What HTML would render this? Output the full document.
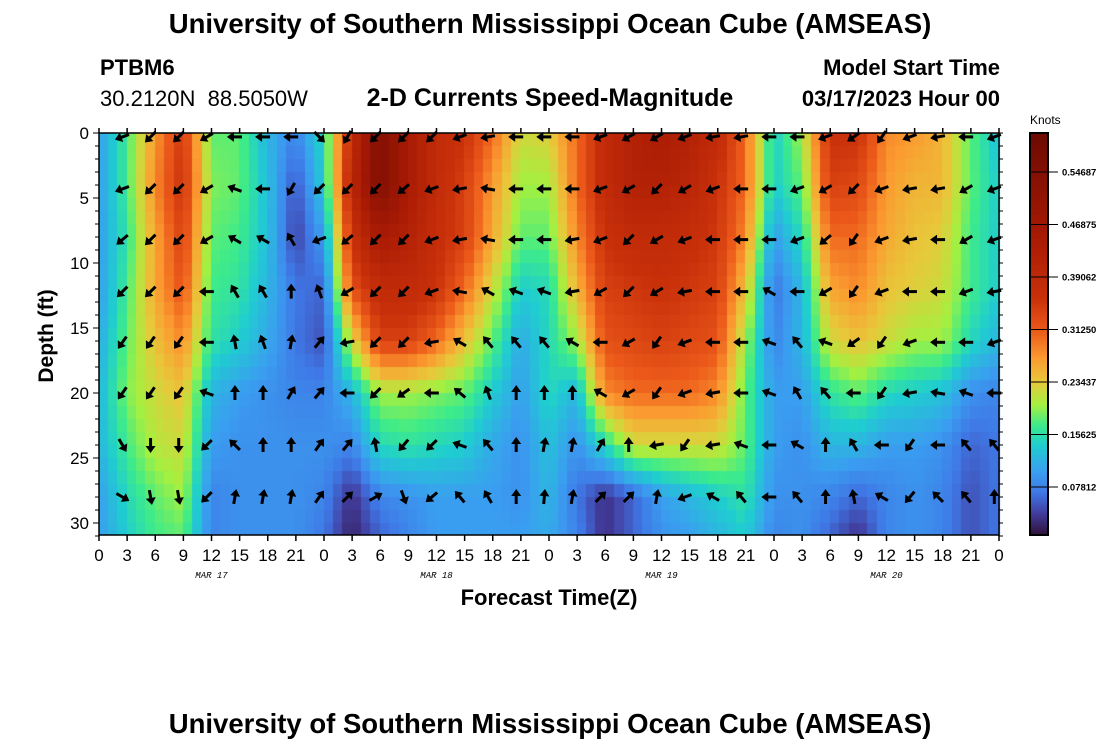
<!DOCTYPE html>
<html><head><meta charset="utf-8">
<style>
body{margin:0;background:#fff;width:1100px;height:750px;overflow:hidden;font-family:"Liberation Sans",sans-serif;position:relative}
.t{position:absolute;white-space:nowrap;color:#000}
</style></head><body>
<div class="t" style="left:0;width:1100px;text-align:center;top:8px;font-size:27.5px;font-weight:bold">University of Southern Mississippi Ocean Cube (AMSEAS)</div>
<div class="t" style="left:100px;top:55px;font-size:22px;font-weight:bold">PTBM6</div>
<div class="t" style="left:100px;top:86px;font-size:22px">30.2120N&nbsp; 88.5050W</div>
<div class="t" style="left:0;width:1100px;text-align:center;top:84px;font-size:25px;font-weight:bold">2-D Currents Speed-Magnitude</div>
<div class="t" style="right:100px;top:55px;font-size:22px;font-weight:bold">Model Start Time</div>
<div class="t" style="right:100px;top:86px;font-size:22px;font-weight:bold">03/17/2023 Hour 00</div>
<div class="t" style="left:0;width:1100px;text-align:center;top:708px;font-size:27.5px;font-weight:bold">University of Southern Mississippi Ocean Cube (AMSEAS)</div>
<canvas id="hm" width="902" height="402" style="position:absolute;left:99px;top:133px"></canvas>
<svg id="ov" width="1100" height="750" style="position:absolute;left:0;top:0"></svg>
<script>
const hours=[0,3,6,9,12,15,18,21,24,27,30,33,36,39,42,45,48,51,54,57,60,63,66,69,72,75,78,81,84,87,90,93,96];
const depths=[0,4,8,12,16,20,24,28,31];
const speed=[
[0.10,0.10,0.10,0.10,0.11,0.12,0.12,0.10,0.10],
[0.17,0.17,0.16,0.17,0.18,0.19,0.17,0.15,0.14],
[0.27,0.28,0.26,0.26,0.24,0.22,0.21,0.18,0.17],
[0.35,0.36,0.34,0.32,0.28,0.24,0.22,0.20,0.18],
[0.18,0.19,0.18,0.17,0.16,0.12,0.10,0.08,0.08],
[0.18,0.18,0.17,0.16,0.14,0.10,0.09,0.09,0.09],
[0.12,0.13,0.13,0.12,0.11,0.09,0.09,0.09,0.09],
[0.08,0.05,0.04,0.07,0.07,0.08,0.09,0.09,0.09],
[0.15,0.14,0.10,0.06,0.05,0.08,0.09,0.08,0.07],
[0.38,0.40,0.36,0.32,0.22,0.12,0.08,0.03,0.02],
[0.55,0.55,0.45,0.38,0.34,0.20,0.15,0.08,0.06],
[0.45,0.45,0.42,0.38,0.34,0.20,0.16,0.09,0.08],
[0.38,0.38,0.37,0.36,0.30,0.19,0.15,0.10,0.10],
[0.36,0.34,0.34,0.30,0.24,0.18,0.14,0.10,0.10],
[0.30,0.27,0.26,0.22,0.18,0.14,0.11,0.10,0.10],
[0.22,0.20,0.18,0.14,0.11,0.10,0.09,0.09,0.10],
[0.23,0.20,0.18,0.15,0.15,0.15,0.13,0.12,0.11],
[0.30,0.30,0.28,0.25,0.20,0.12,0.09,0.07,0.08],
[0.38,0.38,0.36,0.34,0.32,0.28,0.15,0.03,0.03],
[0.42,0.42,0.38,0.35,0.33,0.30,0.22,0.06,0.06],
[0.44,0.42,0.38,0.36,0.34,0.30,0.22,0.10,0.09],
[0.42,0.40,0.37,0.35,0.33,0.30,0.22,0.12,0.10],
[0.38,0.36,0.35,0.34,0.32,0.28,0.22,0.14,0.12],
[0.30,0.30,0.28,0.24,0.20,0.18,0.18,0.16,0.14],
[0.14,0.14,0.10,0.07,0.08,0.10,0.10,0.09,0.08],
[0.20,0.18,0.15,0.12,0.12,0.10,0.09,0.09,0.09],
[0.36,0.34,0.30,0.26,0.22,0.16,0.12,0.08,0.06],
[0.36,0.33,0.30,0.28,0.24,0.18,0.12,0.06,0.03],
[0.28,0.27,0.26,0.24,0.22,0.15,0.10,0.08,0.08],
[0.27,0.25,0.24,0.23,0.20,0.14,0.10,0.09,0.09],
[0.25,0.25,0.23,0.22,0.20,0.13,0.09,0.08,0.08],
[0.18,0.18,0.17,0.17,0.15,0.09,0.06,0.05,0.05],
[0.13,0.14,0.14,0.14,0.12,0.08,0.07,0.07,0.07]];
const arrowDepths=[0.3,4.3,8.2,12.2,16.1,20,24,28];
const arrowHours=[2.5,5.5,8.5,11.5,14.5,17.5,20.5,23.5,26.5,29.5,32.5,35.5,38.5,41.5,44.5,47.5,50.5,53.5,56.5,59.5,62.5,65.5,68.5,71.5,74.5,77.5,80.5,83.5,86.5,89.5,92.5,95.5];
const arrowDir=[
[200,225,225,210,180,180,180,315,240,225,225,225,200,190,180,180,180,200,210,210,200,190,190,180,180,200,215,235,200,190,180,200],
[200,225,225,210,160,180,240,225,225,225,220,200,190,170,180,180,180,200,210,225,210,200,180,180,200,210,225,200,190,190,210,200],
[220,225,225,210,150,150,120,200,220,225,225,200,190,170,180,180,190,200,225,210,200,180,180,180,200,220,235,200,190,180,210,200],
[225,225,225,180,120,120,90,110,210,225,225,200,170,150,160,160,190,210,225,210,190,180,180,150,180,210,235,200,180,180,200,190],
[235,235,235,180,100,110,80,50,190,225,225,190,150,130,130,130,150,180,210,235,200,180,180,160,130,160,215,235,200,180,180,200],
[235,235,235,160,90,90,60,50,180,225,215,180,140,110,90,90,90,150,210,235,200,190,180,160,120,130,180,235,190,170,160,180],
[300,270,270,225,135,90,90,55,50,100,230,225,160,130,90,80,80,60,90,190,235,190,160,180,150,90,120,180,235,180,130,130],
[330,280,280,225,80,80,80,55,45,30,290,220,130,120,90,85,80,45,45,80,200,150,130,180,130,90,100,150,230,135,130,90]];
const xTicks=[0,3,6,9,12,15,18,21,24,27,30,33,36,39,42,45,48,51,54,57,60,63,66,69,72,75,78,81,84,87,90,93,96];
const yTicks=[0,5,10,15,20,25,30];
const dayLabels=["MAR 17","MAR 18","MAR 19","MAR 20"];
const dayCenters=[12,36,60,84];
const cbTicks=[0.078125,0.15625,0.234375,0.3125,0.390625,0.46875,0.546875];

const X0=99,X1=999,Y0=133,YB=535;
const xs=h=>X0+(X1-X0)*h/96;
const ys=d=>Y0+13*d;
const cbY=v=>487-(v-0.078125)/0.078125*52.5;
const stops=[[0.007,[48,18,59]],[0.04,[66,62,160]],[0.07,[63,120,230]],[0.10,[58,158,240]],[0.14,[31,205,208]],[0.17,[61,235,138]],[0.20,[164,240,64]],[0.235,[232,200,58]],[0.27,[251,154,48]],[0.31,[236,90,26]],[0.36,[200,48,10]],[0.45,[168,26,4]],[0.60,[110,10,2]]];
function col(v){
 if(v<=stops[0][0])return stops[0][1];
 for(let i=1;i<stops.length;i++){if(v<=stops[i][0]){const a=stops[i-1],b=stops[i],t=(v-a[0])/(b[0]-a[0]);return a[1].map((c,k)=>Math.round(c+(b[1][k]-c)*t));}}
 return stops[stops.length-1][1];
}
function interp(arr,x){let i=0;while(i<arr.length-2&&x>arr[i+1])i++;let t=(x-arr[i])/(arr[i+1]-arr[i]);return [i,Math.max(0,Math.min(1,t))];}
function val(h,d){const [i,tx]=interp(hours,h),[j,ty]=interp(depths,d);
 const a=speed[i][j],b=speed[i+1][j],c=speed[i][j+1],e=speed[i+1][j+1];
 return (a*(1-tx)+b*tx)*(1-ty)+(c*(1-tx)+e*tx)*ty;}
const ctx=document.getElementById('hm').getContext('2d');
for(let h=0;h<96;h++)for(let d=0;d<31;d++){
 const c=col(val(h+0.5,d+0.5));ctx.fillStyle=`rgb(${c})`;
 const x=xs(h)-X0,y=ys(d)-Y0;ctx.fillRect(Math.floor(x),y,Math.ceil(xs(h+1)-xs(h))+1,14);}
const svg=document.getElementById('ov');const NS='http://www.w3.org/2000/svg';
function mk(t,at,p){const e=document.createElementNS(NS,t);for(const k in at)e.setAttribute(k,at[k]);(p||svg).appendChild(e);return e;}
const ag=mk('g',{});


arrowDepths.forEach((d,r)=>arrowHours.forEach((h,c)=>{
 const a=arrowDir[r][c];
 const g=mk('g',{transform:`translate(${xs(h)},${ys(d)}) rotate(${-a})`},ag);
 
 
 mk('line',{x1:-7,y1:0,x2:3,y2:0,stroke:'#000','stroke-width':3},g);
 mk('path',{d:'M8,0 L1,-5 L1,5 Z',fill:'#000'},g);
}));
const fr=mk('rect',{x:X0,y:Y0,width:X1-X0,height:YB-Y0,fill:'none',stroke:'#000','stroke-width':1.5});


for(let d=0;d<=31;d++){const y=ys(d),L=d%5==0?6:4;
 mk('line',{x1:X0-L,y1:y,x2:X0,y2:y,stroke:'#000','stroke-width':1});
 mk('line',{x1:X1,y1:y,x2:X1+4,y2:y,stroke:'#000','stroke-width':1});}
yTicks.forEach(v=>{const t=mk('text',{x:X0-10,y:ys(v)+6,'text-anchor':'end','font-size':17,'font-family':'Liberation Sans'});t.textContent=v;
 
 });
xTicks.forEach(h=>{const x=xs(h);
 mk('line',{x1:x,y1:YB,x2:x,y2:YB+6,stroke:'#000','stroke-width':1.5});
 mk('line',{x1:x,y1:Y0,x2:x,y2:Y0-5,stroke:'#000','stroke-width':1.5});
 const t=mk('text',{x:x,y:YB+26,'text-anchor':'middle','font-size':17,'font-family':'Liberation Sans'});t.textContent=h%24;
 
 });
dayLabels.forEach((s,i)=>{const t=mk('text',{x:xs(dayCenters[i]),y:578,'text-anchor':'middle','font-size':9,'font-style':'italic','font-family':'Liberation Mono'});t.textContent=s;
 
 });
let t=mk('text',{x:549,y:605,'text-anchor':'middle','font-size':22,'font-weight':'bold','font-family':'Liberation Sans'});t.textContent='Forecast Time(Z)';


t=mk('text',{x:0,y:0,transform:'translate(53,336) rotate(-90)','text-anchor':'middle','font-size':21,'font-weight':'bold','font-family':'Liberation Sans'});t.textContent='Depth (ft)';


const cg=mk('g',{});


for(let y=Y0;y<YB;y++){const v=0.078125+(487-y-0.5)/52.5*0.078125;const c=col(v);mk('rect',{x:1030,y:y,width:18,height:1.2,fill:`rgb(${c})`},cg);}
mk('rect',{x:1030,y:Y0,width:18,height:YB-Y0,fill:'none',stroke:'#000','stroke-width':2},cg);
cbTicks.forEach(v=>{const y=cbY(v);mk('line',{x1:1030,y1:y,x2:1058,y2:y,stroke:'#000','stroke-width':1},cg);
 const tt=mk('text',{x:1062,y:y+3.5,'font-size':9.5,'font-weight':'bold','font-family':'Liberation Sans'},cg);tt.textContent=v.toFixed(6).slice(0,7);
 
 });
t=mk('text',{x:1030,y:124,'font-size':12,'font-family':'Liberation Sans'});t.textContent='Knots';


</script>
</body></html>
